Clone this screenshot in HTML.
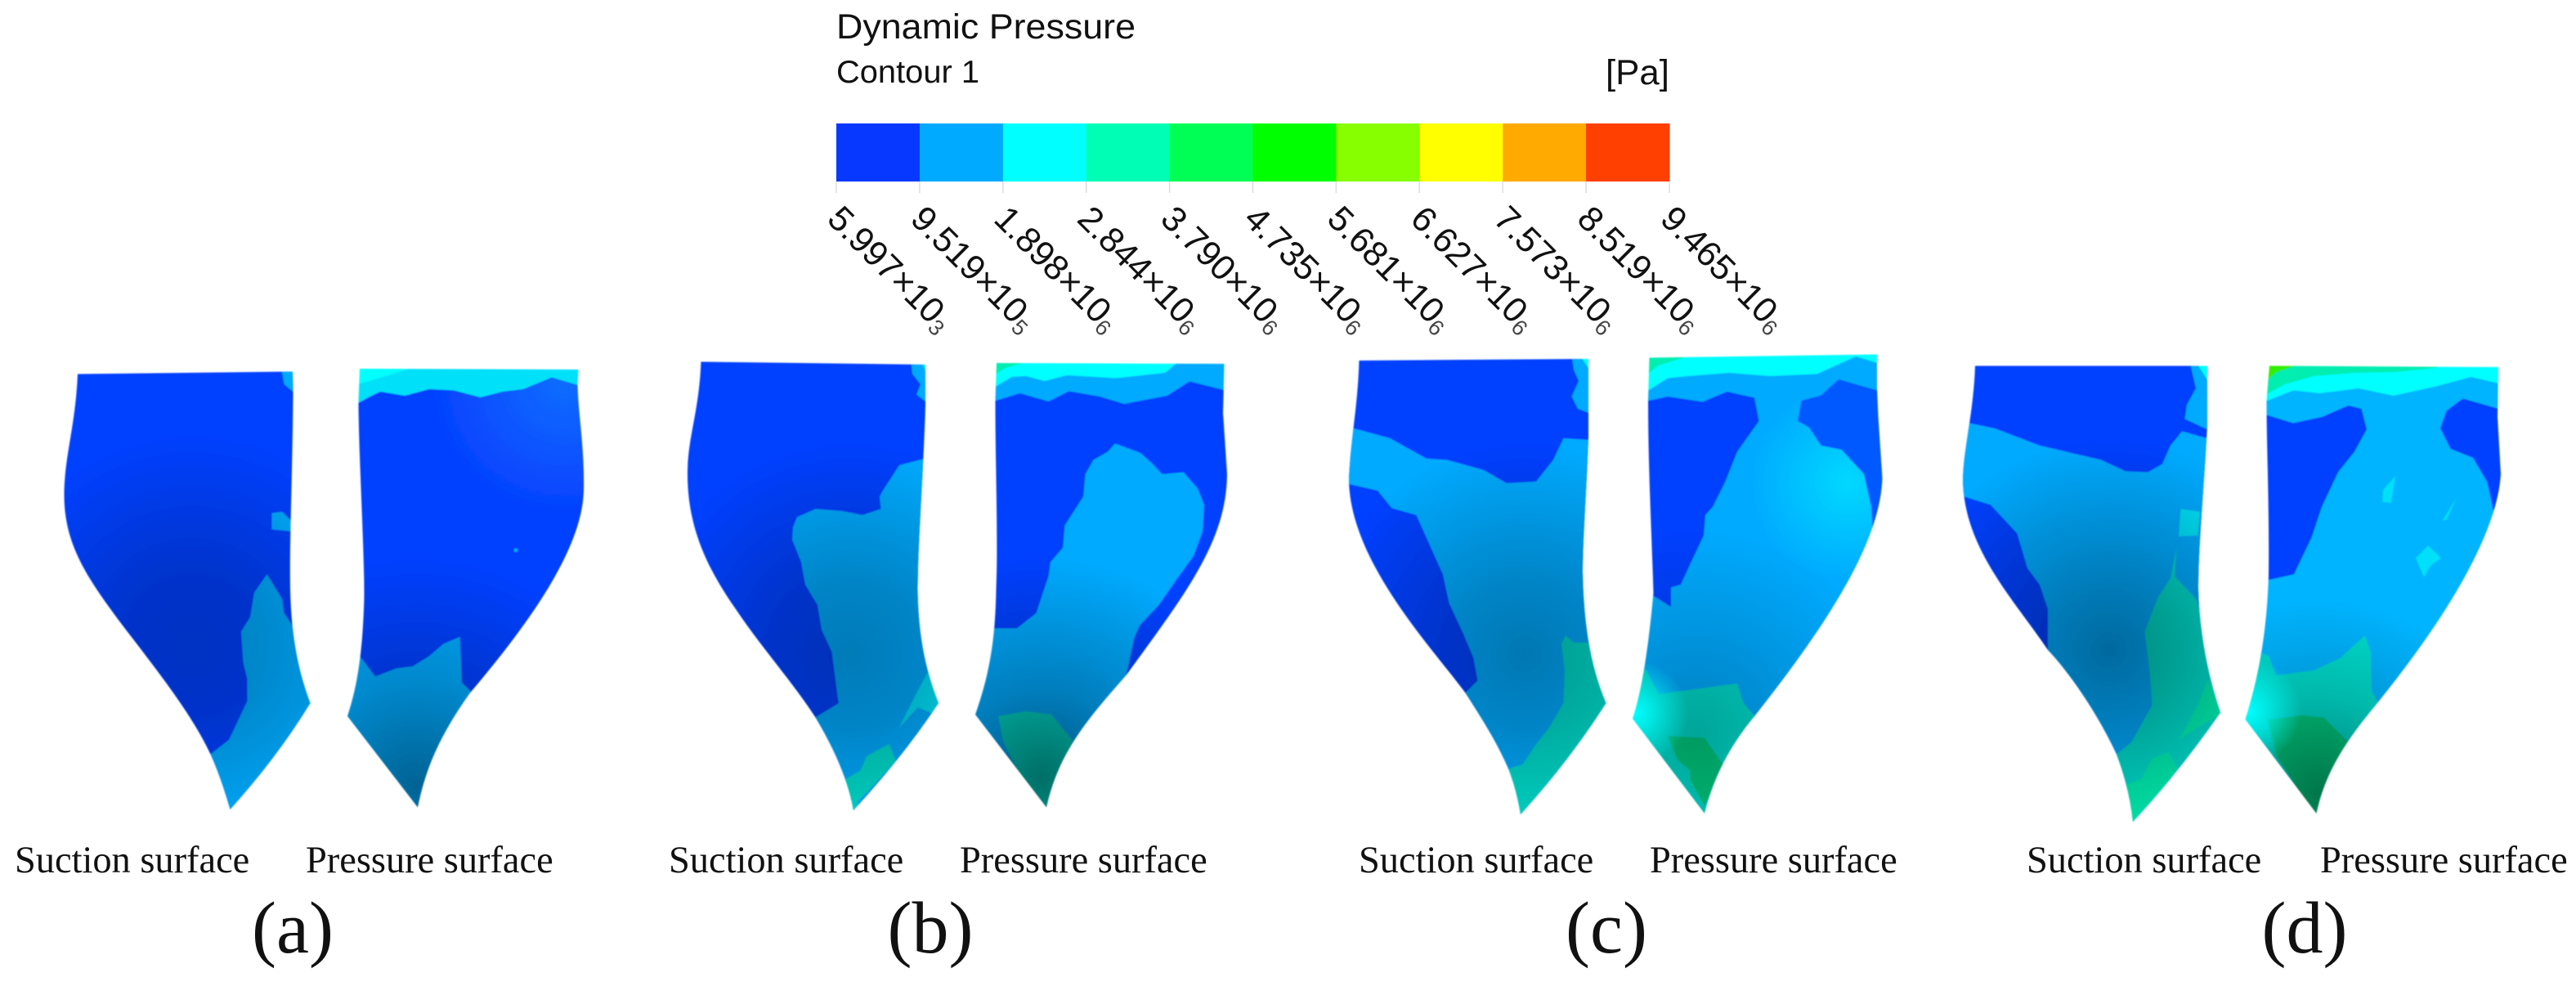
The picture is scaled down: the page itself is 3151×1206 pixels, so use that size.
<!DOCTYPE html>
<html lang="en">
<head>
<meta charset="utf-8">
<title>Dynamic Pressure Contours</title>
<style>
html,body{margin:0;padding:0;background:#fff;width:3151px;height:1206px;overflow:hidden}
svg{display:block}
.sans{font-family:"Liberation Sans",sans-serif;fill:#111}
.serif{font-family:"Liberation Serif",serif;fill:#111}
.cap{font-size:46.4px}
.pan{font-size:90px;text-anchor:middle}
.b0{fill:#0640ff}.b1{fill:#0058ff}.c1{fill:#00aaff}.c1b{fill:#00b4ff}.c2{fill:#00ffff}.c2b{fill:#00e0f8}
.t1{fill:#00dccc}.t2{fill:#00eeb0}.g1{fill:#00cc80}.g2{fill:#30ee00}
</style>
</head>
<body>
<svg id="figure" xmlns="http://www.w3.org/2000/svg" width="3151" height="1206" viewBox="0 0 3151 1206">
<defs>
<filter id="soft" x="-5%" y="-5%" width="110%" height="110%"><feGaussianBlur stdDeviation="1.4"/></filter>
<radialGradient id="shA1" gradientUnits="userSpaceOnUse" cx="470" cy="740" r="520"><stop offset="0" stop-color="#000" stop-opacity=".24"/><stop offset=".35" stop-color="#000" stop-opacity=".2"/><stop offset="1" stop-color="#000" stop-opacity="0"/></radialGradient>
<radialGradient id="shA2" gradientUnits="userSpaceOnUse" cx="1020" cy="1080" r="560"><stop offset="0" stop-color="#000" stop-opacity=".42"/><stop offset=".45" stop-color="#000" stop-opacity=".2"/><stop offset="1" stop-color="#000" stop-opacity="0"/></radialGradient>
<radialGradient id="shB1" gradientUnits="userSpaceOnUse" cx="520" cy="760" r="520"><stop offset="0" stop-color="#000" stop-opacity=".28"/><stop offset=".35" stop-color="#000" stop-opacity=".22"/><stop offset="1" stop-color="#000" stop-opacity="0"/></radialGradient>
<radialGradient id="shB2" gradientUnits="userSpaceOnUse" cx="990" cy="1060" r="540"><stop offset="0" stop-color="#000" stop-opacity=".5"/><stop offset=".4" stop-color="#000" stop-opacity=".26"/><stop offset="1" stop-color="#000" stop-opacity="0"/></radialGradient>
<radialGradient id="shC1" gradientUnits="userSpaceOnUse" cx="530" cy="760" r="520"><stop offset="0" stop-color="#000" stop-opacity=".3"/><stop offset=".35" stop-color="#000" stop-opacity=".22"/><stop offset="1" stop-color="#000" stop-opacity="0"/></radialGradient>
<radialGradient id="shC2" gradientUnits="userSpaceOnUse" cx="950" cy="950" r="500"><stop offset="0" stop-color="#000" stop-opacity=".25"/><stop offset="1" stop-color="#000" stop-opacity="0"/></radialGradient>
<radialGradient id="shD1" gradientUnits="userSpaceOnUse" cx="400" cy="750" r="520"><stop offset="0" stop-color="#000" stop-opacity=".38"/><stop offset=".35" stop-color="#000" stop-opacity=".26"/><stop offset="1" stop-color="#000" stop-opacity="0"/></radialGradient>
<radialGradient id="shD2" gradientUnits="userSpaceOnUse" cx="910" cy="1100" r="480"><stop offset="0" stop-color="#000" stop-opacity=".42"/><stop offset=".5" stop-color="#000" stop-opacity=".16"/><stop offset="1" stop-color="#000" stop-opacity="0"/></radialGradient>
<radialGradient id="glowBlue" gradientUnits="userSpaceOnUse" cx="1380" cy="90" r="330"><stop offset="0" stop-color="#0878ff" stop-opacity=".8"/><stop offset="1" stop-color="#0878ff" stop-opacity="0"/></radialGradient>
<radialGradient id="glowC" gradientUnits="userSpaceOnUse" cx="1320" cy="340" r="240"><stop offset="0" stop-color="#00e8ff" stop-opacity=".75"/><stop offset="1" stop-color="#00e8ff" stop-opacity="0"/></radialGradient>
<radialGradient id="tipC" gradientUnits="userSpaceOnUse" cx="800" cy="905" r="130"><stop offset="0" stop-color="#00ffff" stop-opacity="1"/><stop offset="1" stop-color="#00ffff" stop-opacity="0"/></radialGradient>
<radialGradient id="tipD" gradientUnits="userSpaceOnUse" cx="740" cy="900" r="130"><stop offset="0" stop-color="#00ffff" stop-opacity="1"/><stop offset="1" stop-color="#00ffff" stop-opacity="0"/></radialGradient>
<clipPath id="cA1"><path d="M190 75L716 69L717 120C716 300 708 480 710 600C712 700 725 790 759 880Q680 1010 563 1140Q540 1060 515 1005C470 910 400 820 300 690C210 570 157 490 157 370C157 280 185 200 190 75Z"/></clipPath>
<clipPath id="cA2"><path d="M880 62L1415 64L1413 100C1415 180 1430 250 1428 360C1425 470 1350 620 1150 855C1090 940 1045 1020 1022 1135L850 912C870 850 885 780 890 650C895 560 878 300 877 145Z"/></clipPath>
<clipPath id="cB1"><path d="M155 45L704 52L704 150C700 300 686 480 685 600C686 700 700 790 736 880Q650 1010 528 1142Q510 1040 435 915C380 830 300 740 240 650C170 550 122 450 122 320C122 230 150 170 155 45Z"/></clipPath>
<clipPath id="cB2"><path d="M878 48L1435 50L1432 170L1442 320C1440 480 1350 600 1195 812C1100 920 1030 1000 1000 1135L826 908C860 810 875 730 877 600C882 480 875 300 875 140Z"/></clipPath>
<clipPath id="cC1"><path d="M125 42L686 38L686 230C682 350 672 480 672 560C674 680 690 790 729 880Q640 1020 520 1152Q510 1090 490 1040C460 970 420 910 385 855C300 740 100 530 100 330C105 230 122 150 125 42Z"/></clipPath>
<clipPath id="cC2"><path d="M835 35L1392 27L1392 110L1395 180L1405 330C1400 470 1300 650 1090 915C1040 975 995 1050 970 1150L794 918C820 840 835 720 845 610C840 450 832 300 832 140Z"/></clipPath>
<clipPath id="cD1"><path d="M72 55L640 55L640 200C632 350 618 500 618 600C620 700 640 810 672 903Q570 1050 458 1170Q450 1090 418 1005C360 880 280 780 250 750C170 630 42 500 42 330C45 250 68 170 72 55Z"/></clipPath>
<clipPath id="cD2"><path d="M792 55L1352 58L1350 180L1358 320C1350 450 1250 640 1052 885C990 960 930 1040 907 1150L733 920C770 800 785 700 790 570C792 400 785 250 785 140Z"/></clipPath>
</defs>

<g id="colorbar"></g>
<text class="sans" x="1023" y="47" font-size="43" textLength="366" lengthAdjust="spacingAndGlyphs">Dynamic Pressure</text>
<text class="sans" x="1023" y="101" font-size="39" textLength="175" lengthAdjust="spacingAndGlyphs">Contour 1</text>
<text class="sans" x="1964" y="103" font-size="43" textLength="78" lengthAdjust="spacingAndGlyphs">[Pa]</text>

<!-- PANEL A -->
<g transform="translate(0,420) scale(.5)" filter="url(#soft)">
 <g clip-path="url(#cA1)">
  <rect class="b0" x="100" y="0" width="700" height="1200"/>
  <polygon class="c1" points="688,60 725,60 725,125 695,100"/>
  <polygon class="c1" points="665,415 690,412 712,433 712,460 665,455"/>
  <polygon class="c1" points="653,565 690,625 695,660 712,685 770,800 770,1200 500,1200 515,1005 560,970 605,875 605,820 595,780 590,705 612,670 622,610"/>
  <rect fill="url(#shA1)" x="100" y="0" width="700" height="1200"/>
 </g>
 <g clip-path="url(#cA2)">
  <rect class="b0" x="840" y="0" width="600" height="1200"/>
  <rect fill="url(#glowBlue)" x="840" y="0" width="600" height="600"/>
  <polygon class="c2b" points="860,155 905,130 930,118 990,128 1050,112 1110,115 1175,132 1230,118 1280,112 1350,83 1440,110 1440,40 860,40"/>
  <polygon class="c2" points="860,50 1040,50 960,75 860,105"/>
  <polygon class="c1" points="880,765 918,815 970,795 1010,790 1050,765 1085,735 1125,718 1130,830 1155,855 1100,1200 830,1200 830,900"/>
  <circle class="c1" cx="1262" cy="506" r="5"/>
  <rect fill="url(#shA2)" x="840" y="0" width="600" height="1200"/>
 </g>
</g>

<!-- PANEL B -->
<g transform="translate(780,420) scale(.5)" filter="url(#soft)">
 <g clip-path="url(#cB1)">
  <rect class="b0" x="100" y="0" width="700" height="1200"/>
  <polygon class="c1" points="710,280 640,298 600,360 592,375 595,405 550,420 500,410 435,405 390,425 380,450 378,480 400,535 410,590 440,640 450,700 475,755 490,870 492,880 435,915 400,1200 760,1200 760,280"/>
  <polygon class="c1" points="668,40 720,40 720,155 682,125 692,100 672,75"/>
  <polygon class="c2b" points="690,40 720,40 720,100"/>
  <polygon class="c2b" points="712,800 745,880 720,905 685,890 640,940 680,860"/>
  <polygon class="t1" points="505,1068 545,1045 560,1010 615,980 632,1022 540,1120 528,1160 500,1160"/>
  <rect fill="url(#shB1)" x="100" y="0" width="700" height="1200"/>
 </g>
 <g clip-path="url(#cB2)">
  <rect class="b0" x="810" y="0" width="650" height="1200"/>
  <polygon class="c1" points="860,145 935,122 1005,142 1055,117 1130,130 1190,148 1295,128 1350,93 1450,118 1450,30 860,30"/>
  <polygon class="c2" points="860,30 1340,30 1290,72 1170,85 1050,78 995,92 950,80 915,82 860,115"/>
  <polygon class="t2" points="860,40 970,40 900,60 860,85"/>
  <polygon class="c1" points="1168,245 1230,268 1260,295 1283,320 1335,315 1370,355 1386,395 1382,460 1360,520 1320,575 1275,640 1228,690 1215,720 1195,812 1150,1200 810,1200 810,697 928,697 975,660 1005,570 1010,535 1040,500 1045,445 1090,375 1095,320 1115,285 1150,265"/>
  <polygon class="t1" points="882,912 950,900 1012,908 1065,972 1025,1100 1000,1160 930,1045 895,975"/>
  <rect fill="url(#shB2)" x="810" y="0" width="650" height="1200"/>
 </g>
</g>

<!-- PANEL C -->
<g transform="translate(1600,420) scale(.5)" filter="url(#soft)">
 <g clip-path="url(#cC1)">
  <rect class="b0" x="80" y="0" width="700" height="1200"/>
  <polygon class="c1" points="90,200 112,208 200,232 290,282 340,285 430,310 485,342 558,338 600,285 625,232 700,237 760,700 760,1200 300,1200 385,855 415,825 405,770 380,710 345,635 330,565 265,420 205,403 170,360 90,342"/>
  <polygon class="c1" points="645,30 700,30 700,175 660,160 645,130 662,92 650,65"/>
  <polygon class="c2" points="665,30 700,30 700,80"/>
  <polygon class="t1" points="630,715 650,732 690,732 760,850 760,1200 480,1200 492,1040 525,1030 555,985 590,940 625,880 628,800 620,735"/>
  <rect fill="url(#shC1)" x="80" y="0" width="700" height="1200"/>
 </g>
 <g clip-path="url(#cC2)">
  <rect class="c1" x="780" y="0" width="650" height="1200"/>
  <rect fill="url(#glowC)" x="780" y="0" width="650" height="800"/>
  <polygon class="b0" points="825,142 880,130 965,143 1025,118 1092,133 1103,190 1050,265 1020,340 990,400 972,420 968,470 935,540 912,590 888,597 888,645 825,605"/>
  <polygon class="b1" points="1207,140 1255,127 1298,88 1410,120 1410,420 1382,470 1378,400 1360,320 1305,260 1255,250 1225,205 1198,190"/>
  <polygon class="b1" points="1355,530 1320,600 1345,590"/>
  <polygon class="c2" points="825,25 1400,15 1400,50 1340,32 1245,75 1130,80 1030,72 930,80 880,85 825,120"/>
  <polygon class="t2" points="825,30 935,30 855,55 825,80"/>
  <polygon class="t1" points="825,795 858,858 1050,832 1065,880 1095,915 1000,1200 780,1200 780,900"/>
  <polygon class="g1" points="880,960 970,965 1015,1030 985,1100 970,1130 935,1070 935,1045 905,1020"/>
  <rect fill="url(#shC2)" x="780" y="0" width="650" height="1200"/>
  <rect fill="url(#tipC)" x="780" y="780" width="200" height="260"/>
 </g>
</g>

<!-- PANEL D -->
<g transform="translate(2380,420) scale(.5)" filter="url(#soft)">
 <g clip-path="url(#cD1)">
  <rect class="b0" x="20" y="0" width="700" height="1200"/>
  <polygon class="c1" points="30,190 57,195 120,208 230,250 380,285 440,313 495,315 530,295 550,250 578,215 660,238 720,800 720,1200 200,1200 250,750 250,650 230,590 200,550 175,465 110,395 30,370"/>
  <polygon class="c1" points="597,45 650,45 650,215 585,185 590,150 612,110"/>
  <polygon class="c2" points="612,45 650,45 650,105"/>
  <polygon class="c2b" points="575,405 622,412 617,470 570,472"/>
  <polygon class="t1" points="565,500 560,570 612,625 660,750 720,850 720,1200 400,1200 418,1005 455,975 505,885 500,810 487,705 520,620 550,575"/>
  <polygon class="t2" points="640,825 690,903 640,925 570,970 620,880"/>
  <polygon class="t2" points="440,1080 480,1065 505,1015 545,1000 570,1045 470,1180 440,1180"/>
  <rect fill="url(#shD1)" x="20" y="0" width="700" height="1200"/>
 </g>
 <g clip-path="url(#cD2)">
  <rect class="c1b" x="720" y="0" width="650" height="1200"/>
  <polygon class="b0" points="775,172 850,195 920,180 985,152 1017,160 1030,210 1000,265 960,315 920,400 895,475 852,565 775,582"/>
  <polygon class="b0" points="1210,208 1225,165 1265,135 1370,165 1370,450 1345,440 1338,400 1325,340 1290,280 1235,258"/>
  <polygon class="c2" points="775,45 1370,45 1370,102 1285,82 1200,105 1095,128 1010,110 915,122 850,115 775,145"/>
  <polygon class="t2" points="775,45 1220,45 1200,60 1100,70 1000,72 900,80 830,100 775,130"/>
  <polygon class="g2" points="775,45 885,45 810,70 775,100"/>
  <polygon class="c2b" points="1070,358 1100,325 1090,390 1068,388"/>
  <polygon class="c2b" points="1150,525 1180,495 1212,525 1185,545 1170,572"/>
  <polygon class="c2b" points="1215,433 1250,378 1225,432"/>
  <polygon class="t1" points="775,757 790,765 808,812 900,800 965,770 1025,715 1040,755 1042,850 1060,885 1000,1200 720,1200 720,920"/>
  <polygon class="g1" points="788,920 870,910 925,915 985,975 940,1060 907,1160 840,1055 810,1010"/>
  <rect fill="url(#shD2)" x="720" y="0" width="650" height="1200"/>
  <rect fill="url(#tipD)" x="720" y="770" width="180" height="260"/>
 </g>
</g>

<text class="serif cap" x="18" y="1067">Suction surface</text>
<text class="serif cap" x="374" y="1067">Pressure surface</text>
<text class="serif pan" x="358" y="1165">(a)</text>
<text class="serif cap" x="818" y="1067">Suction surface</text>
<text class="serif cap" x="1174" y="1067">Pressure surface</text>
<text class="serif pan" x="1138" y="1165">(b)</text>
<text class="serif cap" x="1662" y="1067">Suction surface</text>
<text class="serif cap" x="2018" y="1067">Pressure surface</text>
<text class="serif pan" x="1965" y="1165">(c)</text>
<text class="serif cap" x="2479" y="1067">Suction surface</text>
<text class="serif cap" x="2838" y="1067">Pressure surface</text>
<text class="serif pan" x="2819" y="1165">(d)</text>
</svg>

<script>
const tickValues = [5.997e3, 9.519e5, 1.898e6, 2.844e6, 3.790e6, 4.735e6, 5.681e6, 6.627e6, 7.573e6, 8.519e6, 9.465e6];
const tickMantissas = ['5.997', '9.519', '1.898', '2.844', '3.790', '4.735', '5.681', '6.627', '7.573', '8.519', '9.465'];
const tickExponents = ['3', '5', '6', '6', '6', '6', '6', '6', '6', '6', '6'];
const bandColors = ['#0638ff', '#00aaff', '#00ffff', '#00ffb4', '#00ff55', '#00ff00', '#88ff00', '#ffff00', '#ffaa00', '#ff4000'];

const NS = 'http://www.w3.org/2000/svg';
const barLeft = 1023, barRight = 2042, barTop = 151, barBottom = 222, tickEnd = 236;
const minValue = tickValues[0];
const maxValue = tickValues[tickValues.length - 1];
function xScale(v) {
  return barLeft + (v - minValue) / (maxValue - minValue) * (barRight - barLeft);
}
const root = document.getElementById('colorbar');

for (let i = 0; i < bandColors.length; i++) {
  const band = document.createElementNS(NS, 'rect');
  
  
  band.setAttribute('x', xScale(tickValues[i]));
  band.setAttribute('y', barTop);
  band.setAttribute('width', xScale(tickValues[i + 1]) - xScale(tickValues[i]) + 0.5);
  band.setAttribute('height', barBottom - barTop);
  band.setAttribute('fill', bandColors[i]);
  root.appendChild(band);
}

for (let i = 0; i < tickValues.length; i++) {
  const px = xScale(tickValues[i]);
  const tick = document.createElementNS(NS, 'line');
  
  
  tick.setAttribute('x1', px);
  tick.setAttribute('x2', px);
  tick.setAttribute('y1', barBottom);
  tick.setAttribute('y2', tickEnd);
  tick.setAttribute('stroke', '#ddd');
  tick.setAttribute('stroke-width', '1.5');
  root.appendChild(tick);

  const label = document.createElementNS(NS, 'text');
  
  
  label.setAttribute('class', 'sans');
  label.setAttribute('font-size', '43');
  label.setAttribute('x', px - 13);
  label.setAttribute('y', 270);
  label.setAttribute('transform', 'rotate(45 ' + (px - 13) + ' 270)');
  label.textContent = tickMantissas[i] + '×10';
  const exp = document.createElementNS(NS, 'tspan');
  
  
  exp.setAttribute('font-size', '27');
  exp.setAttribute('dy', '6');
  exp.setAttribute('fill', '#444');
  exp.textContent = tickExponents[i];
  label.appendChild(exp);
  root.appendChild(label);
}
</script>
</body>
</html>
